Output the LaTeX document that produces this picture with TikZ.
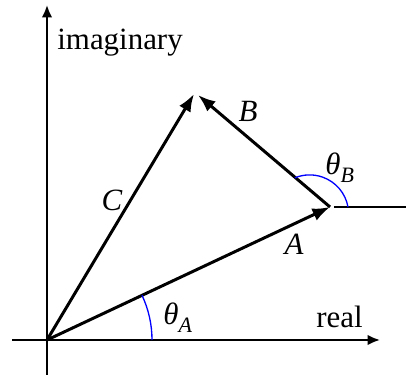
\documentclass[tikz,border=0pt]{standalone}
\usepackage{fontspec}
\setmainfont{Liberation Serif}
\usetikzlibrary{arrows.meta}

\begin{document}
\begin{tikzpicture}[
    x=0.02cm, y=0.02cm,
    every node/.style={font=\fontsize{17.6}{20}\selectfont, inner sep=0pt},
    phasor/.style={line width=1.7pt, -{Latex[length=10pt,width=7.5pt]}},
    axis/.style={line width=1.2pt, -{Latex[length=7pt,width=6pt]}},
    angarc/.style={blue, line width=0.75pt}
]

% Parameters
\def\Ax{330}
\def\Ay{171}
\newcommand{\subA}[1]{\raisebox{-4pt}{\fontsize{12.5}{13}\selectfont\textit{#1}}}

\useasboundingbox (0,0) rectangle (406,378);

% === Axes ===
\coordinate (O) at (47,38);
\coordinate (reW) at (12,38);
\coordinate (reE) at (380,38);
\coordinate (imS) at (47,3);
\coordinate (imN) at (47,373);
\draw[axis] (reW) -- (reE);
\draw[axis] (imS) -- (imN);

\node[anchor=base west] (imlab) at (57,328) {imaginary};
\node[anchor=base west] (relab) at (316,50) {real};

% === Phasors ===
\coordinate (Atip) at (\Ax,\Ay);
\coordinate (Ctip) at (194,284);
\coordinate (Btip) at (198,283);
\coordinate (refS) at (334,\Ay);
\coordinate (refE) at (406,\Ay);

\draw[phasor] (O) -- (Atip);
\draw[phasor] (O) -- (Ctip);
\draw[phasor] (Atip) -- (Btip);
\draw[line width=1.2pt] (refS) -- (refE);

\node (Alab) at (294,134) {\textit{A}};
\node (Blab) at (248,267) {\textit{B}};
\node (Clab) at (112,178) {\textit{C}};

% === Angles ===
\draw[angarc] (152,38) arc[start angle=0, end angle=25.2, radius=105];
\draw[angarc] (348,171) arc[start angle=10.2, end angle=112.3, radius=39];

\node[anchor=base west] (thA) at (163,53) {\textit{θ}\subA{A}};
\node[anchor=base west] (thB) at (325,203) {\textit{θ}\subA{B}};

\end{tikzpicture}
\end{document}
